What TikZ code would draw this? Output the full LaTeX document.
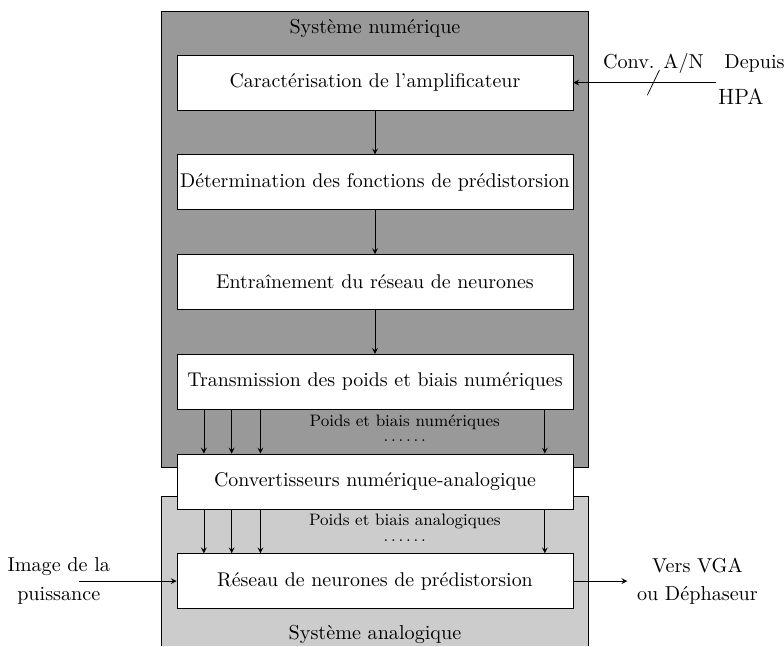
\documentclass[tikz,border=0pt,11pt]{standalone}
\usepackage[utf8]{inputenc}
\usepackage{xcolor}
\usepackage{tikz}
\usetikzlibrary{arrows, positioning, calc, backgrounds}
\definecolor{numgray}{gray}{0.6}
\definecolor{anagray}{gray}{0.8}

\tikzset{
    bloc/.style={draw, fill=white, minimum width=7.56cm, minimum height=1.05cm, inner xsep=1pt,
                 align=center, font=\fontsize{10.8}{13}\selectfont},
    fleche/.style={-stealth},
    poids/.style={font=\footnotesize, inner sep=0pt}
}

\begin{document}
\begin{tikzpicture}[node distance=0.84cm]
    \useasboundingbox (-7.16,1.576) rectangle (7.81,-10.76);
    \coordinate (bas) at (0,-10.76);

    % blocs principaux
    \node[bloc] (carac) at (0,0) {Caractérisation de l'amplificateur};
    \node[bloc, below=of carac] (determ) {Détermination des fonctions de prédistorsion};
    \node[bloc, below=of determ] (entrain) {Entraînement du réseau de neurones};
    \node[bloc, below=of entrain] (transm) {Transmission des poids et biais numériques};
    \node[bloc, below=of transm] (cna) {Convertisseurs numérique-analogique};
    \node[bloc, below=of cna] (reseau) {Réseau de neurones de prédistorsion};

    % fonds des deux systemes
    \coordinate (anagauche) at ($(cna.south west)+(-0.29,0.25)$);
    \coordinate (anadroite) at ($(cna.south east)+(0.29,0.25)$);
    \begin{pgfonlayer}{background}
        \path[fill=numgray, draw] ($(carac.north west)+(-0.29,0.82)$) rectangle ($(cna.north east)+(0.29,-0.27)$);
        \path[fill=anagray, draw] (anagauche |- bas) -- (anagauche) -- (anadroite) -- (anadroite |- bas);
    \end{pgfonlayer}

    \node (titrenum) at ($(carac.north)+(0,0.5)$) {Système numérique};
    \node (titreana) at ($(reseau.south)+(0,-0.48)$) {Système analogique};

    \draw[fleche] (carac) -- (determ);
    \draw[fleche] (determ) -- (entrain);
    \draw[fleche] (entrain) -- (transm);

    \foreach \dx in {0.52,1.05,1.6,7.03} {
        \draw[fleche] ($(transm.south west)+(\dx,0)$) -- ($(cna.north west)+(\dx,0)$);
        \draw[fleche] ($(cna.south west)+(\dx,0)$) -- ($(reseau.north west)+(\dx,0)$);
    }
    \node[poids] (pnum) at ($(transm.south)+(0.57,-0.24)$) {Poids et biais numériques};
    \node[poids] (pnumdots) at ($(transm.south)+(0.57,-0.6)$) {.\,.\,.\,.\,.\,.};
    \node[poids] (pana) at ($(cna.south)+(0.57,-0.24)$) {Poids et biais analogiques};
    \node[poids] (panadots) at ($(cna.south)+(0.57,-0.6)$) {.\,.\,.\,.\,.\,.};

    % entree HPA
    \coordinate (hpa) at ($(carac.east)+(2.73,0)$);
    \draw[fleche] (hpa) -- (carac.east);
    \node (depuis) at ($(carac.east)+(3.46,0.36)$) {Depuis};
    \node[font=\large] (hpatxt) at ($(carac.east)+(3.2,-0.27)$) {HPA};
    \node (conv) at ($(carac.east)+(1.53,0.36)$) {Conv. A/N};
    \coordinate (barre) at ($(carac.east)+(1.53,0)$);
    \draw ($(barre)+(-0.115,-0.24)$) -- ($(barre)+(0.115,0.24)$);

    % entree et sortie du reseau
    \coordinate (puiss) at ($(reseau.west)+(-1.87,0)$);
    \node[align=center] (image) at ($(reseau.west)+(-2.25,0)$) {Image de la\\[2pt]puissance};
    \draw[fleche] (puiss) -- (reseau.west);
    \coordinate (sortie) at ($(reseau.east)+(1.03,0)$);
    \draw[fleche] (reseau.east) -- (sortie);
    \node[align=center] (vga) at ($(reseau.east)+(2.37,0)$) {Vers VGA\\[2pt]ou Déphaseur};
\end{tikzpicture}
\end{document}
